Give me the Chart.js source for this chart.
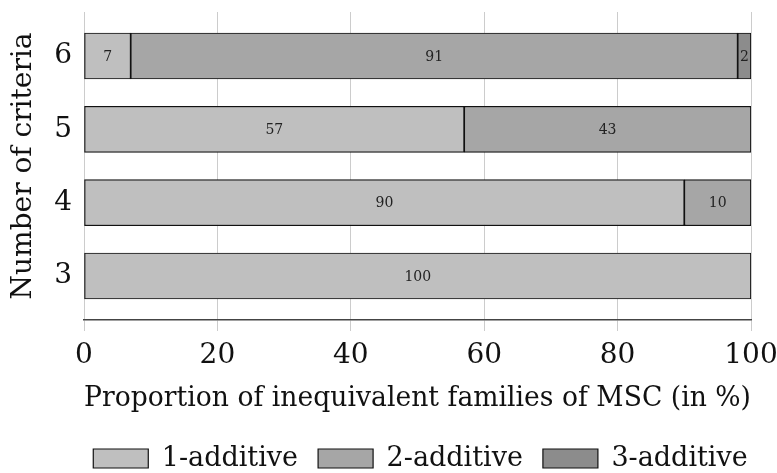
<!DOCTYPE html>
<html>
<head>
<meta charset="utf-8">
<script src="https://cdn.jsdelivr.net/npm/chart.js@4.4.0/dist/chart.umd.min.js"></script>
<style>
  html, body { margin: 0; padding: 0; background: #fff; }
  #wrap { width: 777px; height: 473px; }
</style>
</head>
<body>
<div id="wrap"><canvas id="chart" width="777" height="473"></canvas></div>
<script>
// number of criteria, top to bottom
const criteria = [6, 5, 4, 3];
const oneAdditive = [7, 57, 90, 100];
const twoAdditive = [91, 43, 10, 0];
const threeAdditive = [2, 0, 0, 0];
const xTicks = [0, 20, 40, 60, 80, 100];

const serif = "'DejaVu Serif', 'Liberation Serif', serif";

function points(values) {
    return criteria.map((c, i) => ({ x: values[i], y: c }));
}

// small numbers in the middle of each segment
const segmentLabels = {
    id: 'segmentLabels',
    afterDatasetsDraw(chart) {
        const ctx = chart.ctx;
        ctx.save();
        ctx.font = "14px " + serif;
        ctx.fillStyle = '#222';
        ctx.textAlign = 'center';
        ctx.textBaseline = 'middle';
        chart.data.datasets.forEach((ds, di) => {
            chart.getDatasetMeta(di).data.forEach((bar, i) => {
                const v = ds.data[i].x;
                if (!v) return;
                const p = bar.getProps(['x', 'y', 'base'], true);
                ctx.fillText(String(v), (p.x + p.base) / 2, p.y + 1);
            });
        });
        ctx.restore();
    }
};

// nudge the legend row to where the original has it
const legendShift = {
    id: 'legendShift',
    afterLayout(chart) {
        const lg = chart.legend;
        lg.top += 9;
        lg.bottom += 9;
        lg.left += 42;
        lg.right += 42;
    }
};

const ctx = document.getElementById('chart').getContext('2d');
const chart = new Chart(ctx, {
    type: 'bar',
    data: {
        datasets: [
            { label: '1-additive', data: points(oneAdditive), backgroundColor: '#bfbfbf' },
            { label: '2-additive', data: points(twoAdditive), backgroundColor: '#a6a6a6' },
            { label: '3-additive', data: points(threeAdditive), backgroundColor: '#8c8c8c' }
        ].map(ds => Object.assign(ds, {
            borderColor: '#111',
            borderWidth: 1.2,
            borderSkipped: false,
            barThickness: 46
        }))
    },
    options: {
        indexAxis: 'y',
        responsive: false,
        animation: false,
        layout: { padding: { left: 0, right: 20, top: 12, bottom: 0 } },
        plugins: {
            tooltip: { enabled: false },
            legend: {
                position: 'bottom',
                labels: {
                    font: { family: serif, size: 27 },
                    color: '#111',
                    boxWidth: 55,
                    boxHeight: 19,
                    padding: 20
                }
            }
        },
        scales: {
            x: {
                type: 'linear',
                stacked: true,
                min: 0,
                max: 100,
                afterBuildTicks(scale) {
                    scale.ticks = xTicks.map(v => ({ value: v }));
                },
                afterFit(scale) {
                    scale.height = 96;
                    scale.paddingRight = 26;
                },
                grid: { color: '#cccccc', tickLength: 11, tickColor: '#cccccc' },
                border: { color: '#444', width: 1.5 },
                ticks: { font: { family: serif, size: 28 }, color: '#111', padding: 8 },
                title: {
                    display: true,
                    text: 'Proportion of inequivalent families of MSC (in %)',
                    font: { family: serif, size: 27 },
                    color: '#111',
                    padding: { top: 0, bottom: 1 }
                }
            },
            y: {
                type: 'linear',
                stacked: true,
                offset: false,
                min: 2.4,
                max: 6.6,
                afterBuildTicks(scale) {
                    scale.ticks = criteria.map(v => ({ value: v }));
                },
                afterFit(scale) {
                    scale.width = 84;
                    scale.paddingTop = 0;
                    scale.paddingBottom = 0;
                },
                grid: { display: false, drawTicks: false },
                border: { display: false },
                ticks: { font: { family: serif, size: 28 }, color: '#111', padding: 12 },
                title: {
                    display: true,
                    text: 'Number of criteria',
                    font: { family: serif, size: 28 },
                    color: '#111',
                    padding: { top: 7, bottom: 0 }
                }
            }
        }
    },
    plugins: [segmentLabels, legendShift]
});
</script>
</body>
</html>
